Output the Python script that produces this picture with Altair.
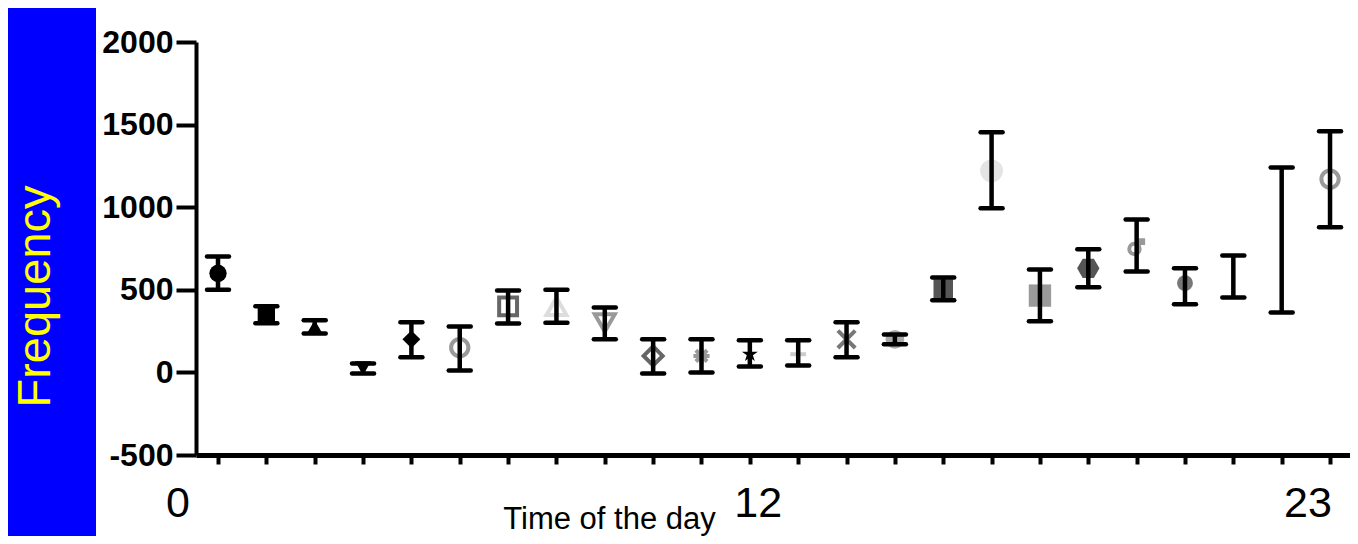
import altair as alt
import pandas as pd

# ---- data ----
hours = list(range(24))
means = [600, 350, 275, 25, 200, 150, 400, 400, 300, 100, 100, 110,
         110, 200, 200, 505, 1220, 465, 630, 760, 540, 580, 800, 1170]
lows = [500, 297, 236, -6, 91, 12, 296, 300, 200, -6, 0, 36,
        42, 91, 170, 436, 993, 309, 515, 611, 412, 454, 363, 878]
highs = [702, 400, 315, 54, 303, 278, 496, 500, 393, 200, 200, 194,
         194, 303, 230, 575, 1453, 623, 745, 926, 630, 708, 1241, 1459]
x_tick_labels = [0, 12, 23]
y_ticks = [-500, 0, 500, 1000, 1500, 2000]

# ---- styles ----
# horizontal nudges (px) of the slide's hour labels relative to their ticks
x_label_nudges = [-40, -40, -22]

ASTER = "M0,-1L0,1M-1,0L1,0M-0.7,-0.7L0.7,0.7M-0.7,0.7L0.7,-0.7"
STAR = ("M0,-1L0.224,-0.309L0.951,-0.309L0.363,0.118L0.588,0.809L0,0.382"
        "L-0.588,0.809L-0.363,0.118L-0.951,-0.309L-0.224,-0.309Z")
DASH = "M-1,0L1,0"
XCROSS = "M-1,-1L1,1M-1,1L1,-1"
HEX = "M-1,0L-0.5,-0.866L0.5,-0.866L1,0L0.5,0.866L-0.5,0.866Z"
MALE = ("M0.35,0.25A0.6,0.6,0,1,1,-0.85,0.25A0.6,0.6,0,1,1,0.35,0.25"
        "M0.17,-0.17L0.75,-0.75M0.2,-0.75L0.75,-0.75L0.75,-0.2")

shapes = ["circle", "square", "triangle-up", "triangle-down", "diamond",
          "circle", "square", "triangle-up", "triangle-down", "diamond",
          ASTER, STAR, DASH, XCROSS, "circle", "square", "circle", "square",
          HEX, MALE, "circle", "circle", "circle", "circle"]
fills = ["#000", "#000", "#000", "#000", "#000",
         "transparent", "transparent", "transparent", "transparent", "transparent",
         "transparent", "#000", "transparent", "transparent", "#aaaaaa", "#555555",
         "#e4e4e4", "#9a9a9a", "#555555", "transparent", "#777777",
         "transparent", "transparent", "transparent"]
strokes = ["transparent", "transparent", "transparent", "transparent", "transparent",
           "#999999", "#666666", "#dddddd", "#999999", "#666666",
           "#999999", "transparent", "#cccccc", "#777777", "transparent", "transparent",
           "transparent", "transparent", "transparent", "#999999", "transparent",
           "transparent", "transparent", "#999999"]
sizes = [300, 300, 260, 260, 320, 300, 320, 400, 400, 360, 260, 280,
         250, 300, 350, 380, 520, 500, 500, 300, 250, 250, 250, 300]

df = pd.DataFrame({
    "hour": hours, "mean": means, "low": lows, "high": highs,
    "shape": shapes, "fill": fills, "stroke": strokes, "size": sizes,
})

FONT = "Liberation Sans"

xs = alt.Scale(domain=[-0.455, 23.413], nice=False, zero=False)
ys = alt.Scale(domain=[-500, 2000], nice=False, zero=False)

x_axis = alt.Axis(
    values=hours, labels=False, grid=False,
    title="Time of the day", titleFont=FONT, titleFontSize=31,
    titleFontWeight="normal", titleColor="black",
    titleX=413, titleY=73, titleAlign="center", titleBaseline="alphabetic",
    tickSize=9, tickWidth=4, tickColor="black",
    domainWidth=5, domainColor="black",
)
y_axis = alt.Axis(
    values=y_ticks, grid=False, labelExpr="'' + datum.value", zindex=2,
    title="Frequency", titleFont=FONT, titleFontSize=47,
    titleFontWeight="normal", titleColor="#ffff00",
    titleX=-161, titleY=254, titleAngle=270, titleAlign="center",
    titleBaseline="middle",
    labelFont=FONT, labelFontSize=32, labelFontWeight="bold",
    labelColor="black", labelPadding=3, labelOverlap=False, labelFlush=False,
    tickSize=20, tickWidth=4, tickColor="black",
    domainWidth=4, domainColor="black",
)

X = alt.X("hour:Q", scale=xs, axis=x_axis)

base = alt.Chart(df)

# decorative blue slide band on the left
band = alt.Chart(pd.DataFrame({"k": [0]})).mark_rect(color="#0000ff").encode(
    x=alt.value(-188), x2=alt.value(-100), y=alt.value(-34), y2=alt.value(494)
)

points = base.mark_point(opacity=1, strokeWidth=4, filled=False).encode(
    x=X,
    y=alt.Y("mean:Q", scale=ys, axis=y_axis),
    shape=alt.Shape("shape:N", scale=None),
    fill=alt.Fill("fill:N", scale=None),
    stroke=alt.Stroke("stroke:N", scale=None),
    size=alt.Size("size:Q", scale=None),
)

bars = base.mark_rule(color="black", strokeWidth=4.5).encode(
    x=X,
    y=alt.Y("low:Q", scale=ys, axis=y_axis),
    y2="high:Q",
)

cap_low = base.mark_rule(color="black", strokeWidth=4.5, strokeCap="round",
                         xOffset=-11, x2Offset=11).encode(
    x=X, x2="hour:Q", y=alt.Y("low:Q", scale=ys, axis=y_axis)
)
cap_high = base.mark_rule(color="black", strokeWidth=4.5, strokeCap="round",
                          xOffset=-11, x2Offset=11).encode(
    x=X, x2="hour:Q", y=alt.Y("high:Q", scale=ys, axis=y_axis)
)

# hour labels of the x axis (slide text, slightly off the ticks)
label_layers = []
for hv, nudge in zip(x_tick_labels, x_label_nudges):
    label_layers.append(
        alt.Chart(pd.DataFrame({"hour": [hv], "label": [str(hv)]}))
        .mark_text(font=FONT, fontSize=43, color="black", align="center",
                   baseline="alphabetic", dx=nudge)
        .encode(x=X, y=alt.value(475), text="label:N")
    )

chart = alt.layer(band, points, bars, cap_low, cap_high, *label_layers).properties(
    width=1154, height=413,
    autosize=alt.AutoSizeParams(type="none"),
    padding={"left": 188, "top": 34, "right": 0, "bottom": 81},
    background="white",
).configure_view(stroke=None)

chart.save("out.html", embed_options={"renderer": "svg", "actions": False})
